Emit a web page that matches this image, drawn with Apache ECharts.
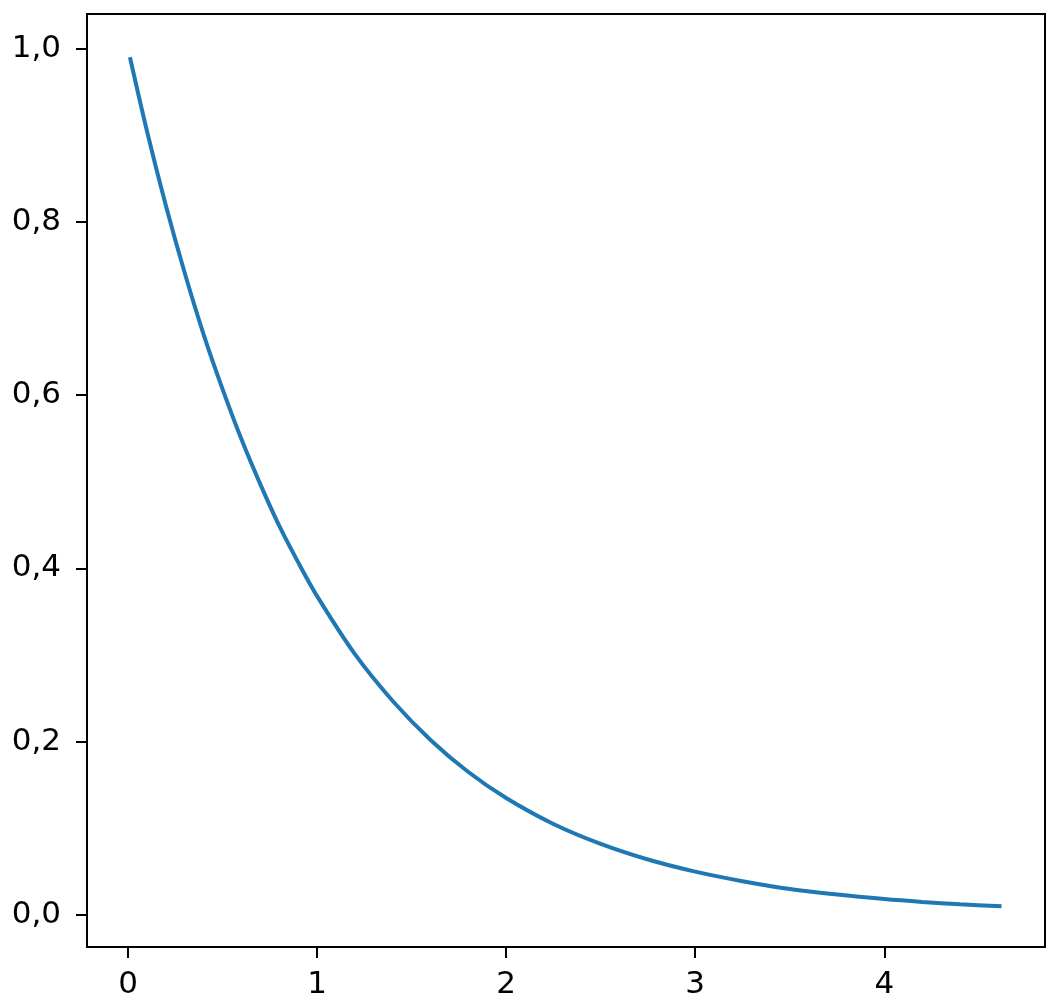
<!DOCTYPE html>
<html>
<head>
<meta charset="utf-8">
<script src="https://cdn.jsdelivr.net/npm/echarts@6/dist/echarts.min.js"></script>
<style>
    html, body { margin: 0; padding: 0; background: #fff; }
    #chart { width: 1060px; height: 1008px; }
</style>
</head>
<body>
<div id="chart"></div>
<script>
// values
var xValues = [0.01, 0.1, 0.2, 0.3, 0.4, 0.5, 0.6, 0.7, 0.8, 0.9, 1.0, 1.2, 1.4, 1.6, 1.8, 2.0, 2.25, 2.5, 2.75, 3.0, 3.25, 3.5, 3.75, 4.0, 4.2, 4.4, 4.62];
var yValues = [0.99, 0.905, 0.819, 0.741, 0.670, 0.607, 0.549, 0.497, 0.449, 0.407, 0.368, 0.301, 0.247, 0.202, 0.165, 0.135, 0.105, 0.082, 0.064, 0.050, 0.039, 0.030, 0.0235, 0.0183, 0.0150, 0.0123, 0.0099];
var xTicks = [0, 1, 2, 3, 4];
var yTicks = [0, 0.2, 0.4, 0.6, 0.8, 1.0];

var points = [];
for (var i = 0; i < xValues.length; i++) {
    points.push([xValues[i], yValues[i]]);
}

var chart = echarts.init(document.getElementById('chart'));
var labelStyle = {
    color: '#000',
    fontSize: 31,
    fontFamily: 'DejaVu Sans'
};
chart.setOption({
    animation: false,
    grid: {
        left: 87,
        right: 15,
        top: 14,
        bottom: 61,
        show: true,
        borderColor: '#000',
        borderWidth: 2
    },
    xAxis: {
        type: 'value',
        min: -0.217,
        max: 4.85,
        splitLine: { show: false },
        axisLine: { show: false, onZero: false },
        axisTick: {
            show: true,
            length: 11,
            lineStyle: { color: '#000', width: 2 },
            customValues: xTicks
        },
        axisLabel: Object.assign({
            margin: 22,
            customValues: xTicks
        }, labelStyle)
    },
    yAxis: {
        type: 'value',
        min: -0.037,
        max: 1.04,
        splitLine: { show: false },
        axisLine: { show: false, onZero: false },
        axisTick: {
            show: true,
            length: 11,
            lineStyle: { color: '#000', width: 2 },
            customValues: yTicks
        },
        axisLabel: Object.assign({
            margin: 26,
            customValues: yTicks,
            formatter: function (v) {
                return v.toFixed(1).replace('.', ',');
            }
        }, labelStyle)
    },
    series: [{
        type: 'line',
        data: points,
        smooth: 0.3,
        showSymbol: false,
        lineStyle: { color: '#1f77b4', width: 4 }
    }]
});
</script>
</body>
</html>
